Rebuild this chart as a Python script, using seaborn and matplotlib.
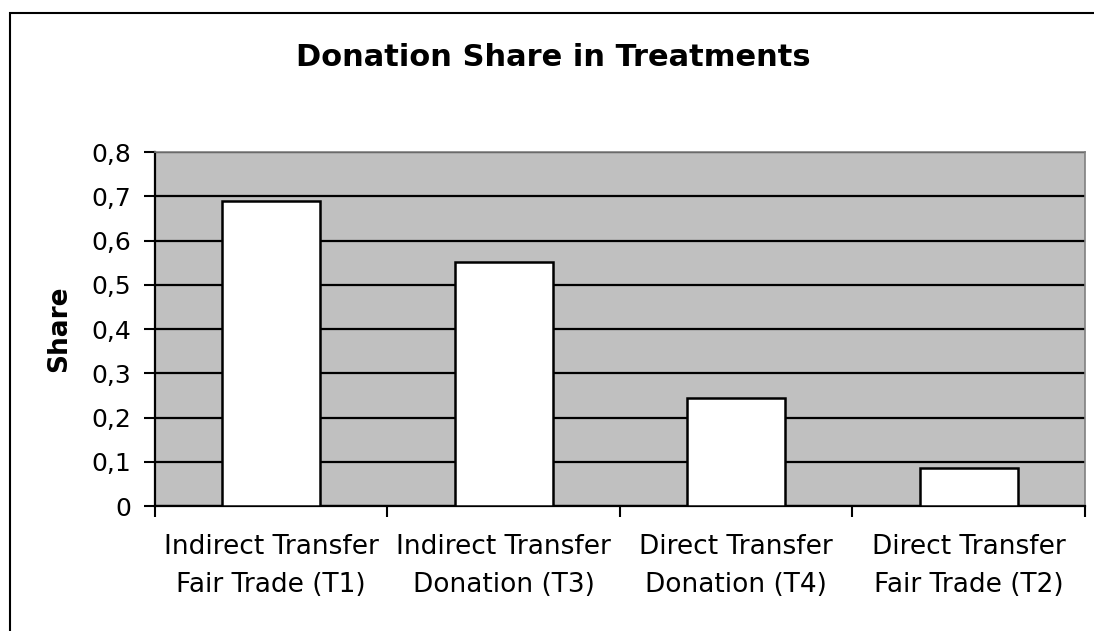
import matplotlib
matplotlib.use("Agg")
import matplotlib.pyplot as plt
from matplotlib.patches import Rectangle
from matplotlib.ticker import FixedLocator
import pandas as pd
import seaborn as sns

# data
treatments = [
    "Indirect Transfer\nFair Trade (T1)",
    "Indirect Transfer\nDonation (T3)",
    "Direct Transfer\nDonation (T4)",
    "Direct Transfer\nFair Trade (T2)",
]
shares = [0.69, 0.552, 0.244, 0.087]
y_ticks = [0.0, 0.1, 0.2, 0.3, 0.4, 0.5, 0.6, 0.7, 0.8]
y_tick_labels = ["0", "0,1", "0,2", "0,3", "0,4", "0,5", "0,6", "0,7", "0,8"]

df = pd.DataFrame({"treatment": treatments, "share": shares})

sns.set_style("white")
plt.rcParams["font.family"] = ["DejaVu Sans"]
plt.rcParams.update({"text.color": "black", "axes.labelcolor": "black",
                     "xtick.color": "black", "ytick.color": "black"})

fig = plt.figure(figsize=(10.94, 6.31), dpi=100)
ax = fig.add_axes([0.1417, 0.198, 0.85, 0.561])

# outer chart border
fig.patches.append(Rectangle((0.009, -0.05), 1.2, 1.029, transform=fig.transFigure,
                             fill=False, edgecolor="black", linewidth=1.5))

ax.set_facecolor("#c0c0c0")
sns.barplot(data=df, x="treatment", y="share", color="white", saturation=1,
            edgecolor="black", linewidth=1.8, width=0.42, ax=ax, zorder=3)

ax.set_ylim(0, 0.8)
ax.set_xlim(-0.5, len(treatments) - 0.5)
ax.set_yticks(y_ticks)
ax.set_yticklabels(y_tick_labels, fontsize=18)
ax.yaxis.grid(True, color="black", linewidth=1.6, zorder=1)
ax.set_axisbelow(True)

ax.tick_params(axis="y", direction="out", length=8, width=1.5, pad=9, left=True)
ax.tick_params(axis="x", which="major", length=0, pad=20, labelsize=19)
ax.xaxis.set_minor_locator(FixedLocator([i - 0.5 for i in range(len(treatments) + 1)]))
ax.tick_params(axis="x", which="minor", direction="out", length=8, width=1.5, bottom=True)
for lbl in ax.get_xticklabels():
    lbl.set_linespacing(1.62)

for side in ["left", "bottom"]:
    ax.spines[side].set_color("black")
    ax.spines[side].set_linewidth(1.6)
for side in ["top", "right"]:
    ax.spines[side].set_color("#808080")
    ax.spines[side].set_linewidth(1.2)

ax.set_xlabel("")
ax.set_ylabel("Share", fontsize=19, fontweight="bold", labelpad=14)
fig.text(0.506, 0.909, "Donation Share in Treatments", ha="center", va="center",
         fontsize=22, fontweight="bold")

fig.savefig("out.png", dpi=100)
